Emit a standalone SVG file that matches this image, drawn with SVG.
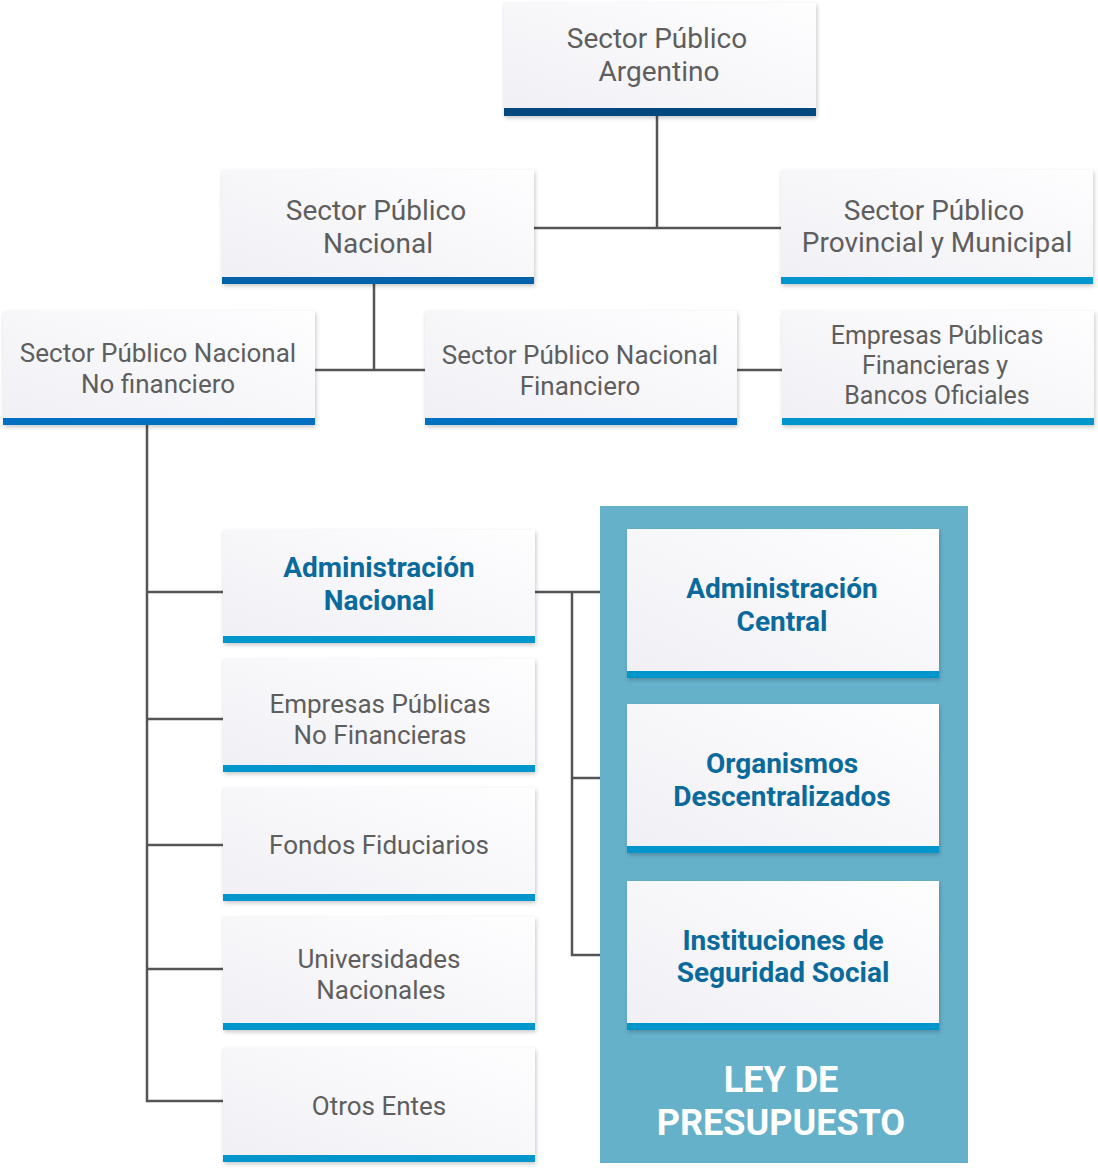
<svg xmlns="http://www.w3.org/2000/svg" width="1098" height="1170" viewBox="0 0 1098 1170">
<defs>
<linearGradient id="g" x1="0" y1="1" x2="1" y2="0">
<stop offset="0" stop-color="#f0eff4"/>
<stop offset="1" stop-color="#fefeff"/>
</linearGradient>
<filter id="sh" x="-5%" y="-5%" width="112%" height="115%">
<feDropShadow dx="1" dy="2" stdDeviation="2.2" flood-color="#000" flood-opacity="0.22"/>
</filter>
</defs>
<style>
.box{fill:url(#g);filter:url(#sh)}
.t{font-family:Roboto,"Liberation Sans",sans-serif;font-size:26px;fill:#5e5e5e;text-anchor:middle}
.tl{font-size:28px}
.ts{font-size:25px}
.b{font-family:Roboto,"Liberation Sans",sans-serif;font-size:28px;font-weight:bold;fill:#0b6a9c;text-anchor:middle}
.w{font-family:Roboto,"Liberation Sans",sans-serif;font-size:36px;font-weight:bold;fill:#ffffff;text-anchor:middle}
.navy{fill:#03477f}.dk{fill:#0062a8}.md{fill:#0070c0}.lt{fill:#0096cc}
.c{stroke:#555555;stroke-width:2.5;fill:none}
</style>
<rect id="panel" x="600" y="506" width="368" height="657" fill="#66b1ca"/>
<g id="connectors">
<path class="c" d="M657 116V228M534 228H781"/>
<path class="c" d="M374 284V370M315 370H425"/>
<path class="c" d="M737 370H782"/>
<path class="c" d="M147 425V1101H223M147 592H223M147 719H223M147 845H223M147 969H223"/>
<path class="c" d="M535 592H600M572 592V955H600M572 778H600"/>
</g>
<g id="n-spa"><rect class="box" x="504" y="3" width="312" height="113"/><rect class="navy" x="504" y="108" width="312" height="8"/><text class="t tl" x="657" y="48">Sector Público</text><text class="t tl" x="659" y="81">Argentino</text></g>
<g id="n-spn"><rect class="box" x="222" y="170" width="312" height="114"/><rect class="dk" x="222" y="277" width="312" height="7"/><text class="t tl" x="376" y="220">Sector Público</text><text class="t tl" x="378" y="253">Nacional</text></g>
<g id="n-sppm"><rect class="box" x="781" y="170" width="312" height="114"/><rect class="lt" x="781" y="277" width="312" height="7"/><text class="t tl" x="934" y="220">Sector Público</text><text class="t tl" x="937" y="252">Provincial y Municipal</text></g>
<g id="n-spnnf"><rect class="box" x="3" y="311" width="312" height="114"/><rect class="md" x="3" y="418" width="312" height="7"/><text class="t" x="158" y="362">Sector Público Nacional</text><text class="t" x="158" y="393">No financiero</text></g>
<g id="n-spnf"><rect class="box" x="425" y="311" width="312" height="114"/><rect class="md" x="425" y="418" width="312" height="7"/><text class="t" x="580" y="364">Sector Público Nacional</text><text class="t" x="580" y="395">Financiero</text></g>
<g id="n-epf"><rect class="box" x="782" y="311" width="312" height="114"/><rect class="lt" x="782" y="418" width="312" height="7"/><text class="t ts" x="937" y="344">Empresas Públicas</text><text class="t ts" x="935" y="374">Financieras y</text><text class="t ts" x="937" y="404">Bancos Oficiales</text></g>
<g id="n-an"><rect class="box" x="223" y="530" width="312" height="113"/><rect class="lt" x="223" y="636" width="312" height="7"/><text class="b" x="379" y="577">Administración</text><text class="b" x="379" y="610">Nacional</text></g>
<g id="n-epnf"><rect class="box" x="223" y="659" width="312" height="113"/><rect class="lt" x="223" y="765" width="312" height="7"/><text class="t" x="380" y="713">Empresas Públicas</text><text class="t" x="380" y="744">No Financieras</text></g>
<g id="n-ff"><rect class="box" x="223" y="788" width="312" height="113"/><rect class="lt" x="223" y="894" width="312" height="7"/><text class="t" x="379" y="854">Fondos Fiduciarios</text></g>
<g id="n-un"><rect class="box" x="223" y="917" width="312" height="113"/><rect class="lt" x="223" y="1023" width="312" height="7"/><text class="t" x="379" y="968">Universidades</text><text class="t" x="381" y="999">Nacionales</text></g>
<g id="n-oe"><rect class="box" x="223" y="1048" width="312" height="114"/><rect class="lt" x="223" y="1155" width="312" height="7"/><text class="t" x="379" y="1115">Otros Entes</text></g>
<g id="n-ac"><rect class="box" x="627" y="529" width="312" height="149"/><rect class="lt" x="627" y="671" width="312" height="7"/><text class="b" x="782" y="598">Administración</text><text class="b" x="782" y="631">Central</text></g>
<g id="n-od"><rect class="box" x="627" y="704" width="312" height="149"/><rect class="lt" x="627" y="846" width="312" height="7"/><text class="b" x="782" y="773">Organismos</text><text class="b" x="782" y="806">Descentralizados</text></g>
<g id="n-iss"><rect class="box" x="627" y="881" width="312" height="149"/><rect class="lt" x="627" y="1023" width="312" height="7"/><text class="b" x="783" y="950">Instituciones de</text><text class="b" x="783" y="982">Seguridad Social</text></g>
<g id="n-ley"><text class="w" x="781" y="1092">LEY DE</text><text class="w" x="781" y="1135">PRESUPUESTO</text></g>
</svg>
